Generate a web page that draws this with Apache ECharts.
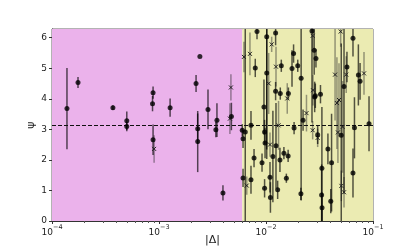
<!DOCTYPE html>
<html><head><meta charset="utf-8">
<script src="https://cdn.jsdelivr.net/npm/echarts@6/dist/echarts.min.js"></script>
<style>html,body{margin:0;padding:0;background:#fff}#c{width:415px;height:249px}</style>
</head><body><div id="c"></div>
<script>
// [ |Δ|, ψ, error ]
const circleData = [
 [1.38e-4,3.68,1.33],[1.75e-4,4.53,0.18],[3.71e-4,3.71,0.08],[5.0e-4,3.28,0.3],[5.0e-4,3.09,0.15],
 [8.8e-4,4.2,0.2],[8.7e-4,3.84,0.25],[1.27e-3,3.71,0.3],[2.41e-3,5.38,0],[2.22e-3,4.5,0.28],
 [2.87e-3,3.65,0.65],[3.48e-3,3.3,0.55],[3.4e-3,2.99,0.25],[2.3e-3,3.02,0.5],[2.3e-3,2.6,1.0],
 [4.75e-3,3.42,0.45],[8.8e-4,2.66,0.5],[3.96e-3,0.92,0.25],[6.1e-3,1.41,0.3],
 [6.1e-3,2.69,0.3],[6.0e-3,2.97,0.2],[6.4e-3,2.91,3.5],[7.24e-3,3.13,0.47],[7.24e-3,1.35,0.46],
 [7.94e-3,5.01,0.3],[8.24e-3,6.2,0.25],[7.73e-3,2.06,0.3],[9.18e-3,1.91,0.3],[9.57e-3,3.73,0.9],
 [9.7e-3,2.91,0.4],[9.8e-3,2.55,0.5],[9.7e-3,1.07,0.3],[1.016e-2,6.03,4.0],[1.016e-2,4.84,2.5],
 [1.09e-2,1.43,0.5],[1.1e-2,0.77,0.5],[1.16e-2,2.11,1.5],[1.23e-2,6.15,0.4],[1.23e-2,4.25,0.3],
 [1.24e-2,2.46,1.4],[1.285e-2,1.02,0.3],[1.36e-2,4.17,0.2],[1.35e-2,2.0,0.4],[1.39e-2,5.08,0.2],
 [1.47e-2,2.22,0.2],[1.55e-2,1.4,0.15],[1.61e-2,2.13,0.2],[1.62e-2,4.17,0.2],[1.81e-2,5.48,0.3],
 [1.75e-2,4.99,0.6],[1.83e-2,3.04,0.2],[1.98e-2,5.08,0.2],[2.13e-2,4.67,4.0],[2.12e-2,0.89,0.2],
 [2.22e-2,3.3,0.35],[2.69e-2,6.22,3.0],[2.82e-2,5.59,0.8],[2.93e-2,5.32,0.3],[2.89e-2,4.1,0.4],
 [3.23e-2,4.15,0.3],[3.04e-2,2.82,0.3],[3.33e-2,1.73,2.0],[3.31e-2,0.85,1.0],[3.34e-2,0.43,0.5],
 [3.79e-2,2.36,0.5],[4.1e-2,1.91,1.6],[4.03e-2,0.65,0.4],[5.05e-2,2.81,3.0],[5.36e-2,4.4,3.5],
 [5.71e-2,5.04,0.5],[6.5e-2,5.98,0.6],[6.71e-2,3.05,1.0],[6.5e-2,1.57,0.8],[7.3e-2,4.78,1.0],
 [7.57e-2,4.57,0.6],[9.18e-2,3.18,0.9],[2.85e-2,4.06,0.5]
];
const crossData = [
 [9.0e-4,2.36,0.45],[4.7e-3,4.37,0.43],[4.6e-3,3.35,0.5],
 [6.22e-3,5.37,0.5],[7.08e-3,5.47,0.7],[1.13e-2,5.78,0.25],[1.24e-2,5.05,0.65],[1.06e-2,4.5,1.0],
 [1.58e-2,4.01,0.5],[2.39e-2,3.53,0.6],[2.75e-2,4.28,0.5],[2.73e-2,6.06,0.4],[2.73e-2,2.97,0.3],
 [3.04e-2,2.72,0.3],[1.31e-2,3.13,0.8],[1.09e-2,2.5,0.4],[6.61e-3,1.16,0.3],[4.99e-2,6.2,0.5],
 [4.42e-2,4.79,1.5],[5.62e-2,4.79,0.6],[8.24e-2,4.83,0.7],[4.6e-2,3.86,1.5],[4.81e-2,3.96,1.2],
 [4.7e-2,2.9,1.0],[5.2e-2,3.08,1.5],[5.06e-2,1.15,0.5],[5.36e-2,0.94,0.5]
];
const regionSplit = 6.0e-3;
const xMin = 1e-4, xMax = 0.1;
const yTicks = [0,1,2,3,4,5,6];
const piLine = Math.PI;

const chart = echarts.init(document.getElementById('c'));
function errRender(color){
  return function(params, api){
    const x = api.value(0), y = api.value(1), e = api.value(2);
    const p1 = api.coord([x, y - e]), p2 = api.coord([x, y + e]);
    return {type:'line', shape:{x1:p1[0],y1:p1[1],x2:p2[0],y2:p2[1]}, style:{stroke:color,lineWidth:1.5}};
  };
}
chart.setOption({
  animation:false,
  grid:{left:52,right:42,top:29,bottom:28,containLabel:false,outerBoundsMode:'none',show:true,borderColor:'#666',borderWidth:1},
  xAxis:{type:'log',min:xMin,max:xMax,logBase:10,
    axisLine:{show:true,onZero:false,lineStyle:{color:'#333',width:1}},
    axisTick:{show:true,length:3,lineStyle:{color:'#333'}},
    minorTick:{show:true,splitNumber:9,length:2,lineStyle:{color:'#555'}},
    splitLine:{show:false},
    axisLabel:{margin:3,color:'#222',fontFamily:'DejaVu Sans',
      formatter:function(v){const e=Math.round(Math.log10(v));return '{b|10}{s|'+String(e).replace('-','−')+'}';},
      rich:{b:{fontSize:9,fontFamily:'DejaVu Sans',color:'#222',verticalAlign:'bottom',lineHeight:13},
            s:{fontSize:6.5,fontFamily:'DejaVu Sans',color:'#222',verticalAlign:'top',lineHeight:8,padding:[0,0,5,0]}}},
    name:'|Δ|',nameLocation:'middle',nameGap:14,nameMoveOverlap:false,nameTextStyle:{fontSize:11,fontFamily:'DejaVu Sans',color:'#222',verticalAlign:'top'}
  },
  yAxis:{type:'value',min:0,max:2*Math.PI,interval:1,
    axisLine:{show:true,onZero:false,lineStyle:{color:'#333',width:1}},
    axisTick:{show:true,length:3,lineStyle:{color:'#333'}},
    splitLine:{show:false},
    axisLabel:{margin:5,fontSize:9,color:'#222',fontFamily:'DejaVu Sans',
      formatter:function(v){return yTicks.indexOf(v)>=0?String(v):'';},showMaxLabel:false},
    name:'ψ',nameLocation:'middle',nameGap:15,nameMoveOverlap:false,nameTextStyle:{fontSize:11,fontFamily:'DejaVu Sans',color:'#222'}
  },
  series:[
    {type:'line',data:[],silent:true,
      markArea:{silent:true,itemStyle:{opacity:1},data:[
        [{xAxis:xMin,yAxis:0,itemStyle:{color:'#ebb2eb'}},{xAxis:regionSplit,yAxis:2*Math.PI}],
        [{xAxis:regionSplit,yAxis:0,itemStyle:{color:'#ebebb2'}},{xAxis:xMax,yAxis:2*Math.PI}]
      ]},
      markLine:{silent:true,symbol:'none',label:{show:false},lineStyle:{color:'#111',type:[4,2],width:1},
        data:[{yAxis:piLine}]}
    },
    {type:'custom',renderItem:errRender('rgba(40,40,40,0.45)'),data:crossData,clip:true,z:3},
    {type:'custom',renderItem:errRender('rgba(0,0,0,0.65)'),data:circleData,clip:true,z:4},
    {type:'custom',clip:true,z:5,data:crossData,renderItem:function(params,api){
      const p=api.coord([api.value(0),api.value(1)]);const s=2;
      return {type:'group',children:[
        {type:'line',shape:{x1:p[0]-s,y1:p[1]-s,x2:p[0]+s,y2:p[1]+s},style:{stroke:'#222',lineWidth:1}},
        {type:'line',shape:{x1:p[0]-s,y1:p[1]+s,x2:p[0]+s,y2:p[1]-s},style:{stroke:'#222',lineWidth:1}}]};
    }},
    {type:'scatter',data:circleData.map(d=>[d[0],d[1]]),symbol:'circle',symbolSize:5,
      itemStyle:{color:'#000'},z:6}
  ]
});
</script></body></html>
